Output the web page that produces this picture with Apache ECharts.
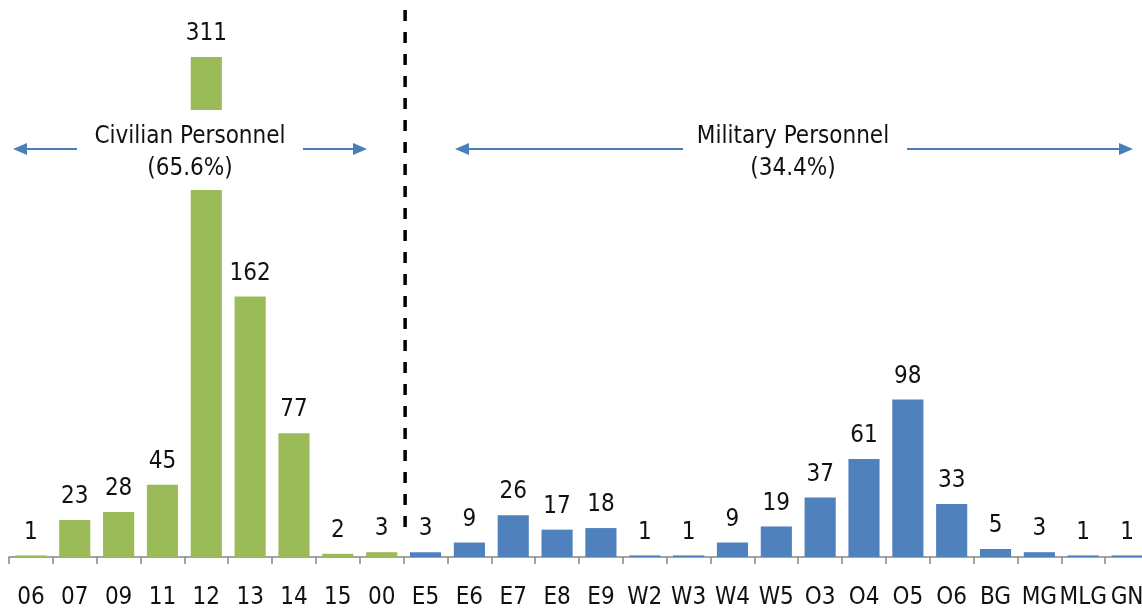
<!DOCTYPE html>
<html><head><meta charset="utf-8">
<script src="https://cdn.jsdelivr.net/npm/echarts@6/dist/echarts.min.js"></script>
<style>html,body{margin:0;padding:0;background:#fff}#c{width:1142px;height:609px}</style>
</head><body><div id="c"></div>
<script>
const civilianGrades = ['06','07','09','11','12','13','14','15','00'];
const civilianValues = [1,23,28,45,311,162,77,2,3];
const militaryGrades = ['E5','E6','E7','E8','E9','W2','W3','W4','W5','O3','O4','O5','O6','BG','MG','MLG','GN'];
const militaryValues = [3,9,26,17,18,1,1,9,19,37,61,98,33,5,3,1,1];
const civilianLabel = ['Civilian Personnel','(65.6%)'];
const militaryLabel = ['Military Personnel','(34.4%)'];

const FONT = '"Liberation Sans Narrow","Arial Narrow","DejaVu Sans Condensed",sans-serif';
const GREEN = '#9BBB59', BLUE = '#4F81BD', ARROW = '#4A7EBB';
const categories = civilianGrades.concat(militaryGrades);
const values = civilianValues.concat(militaryValues);

const chart = echarts.init(document.getElementById('c'));
chart.setOption({
  animation: false,
  grid: {left: 9, width: 1140, top: 57, bottom: 52, containLabel: false, outerBoundsMode: 'none'},
  xAxis: {
    type: 'category', data: categories,
    axisLine: {lineStyle: {color: '#868686', width: 1.5}},
    axisTick: {show: true, interval: 0, length: 7, lineStyle: {color: '#868686', width: 1.5}},
    axisLabel: {fontFamily: FONT, fontSize: 24, color: '#111', margin: 29, interval: 0}
  },
  yAxis: {type: 'value', min: 0, max: 311, show: false, splitLine: {show: false}},
  series: [{
    type: 'bar', barCategoryGap: '29%',
    data: values.map((v, i) => ({value: v, itemStyle: {color: i < civilianValues.length ? GREEN : BLUE}})),
    label: {show: true, position: 'top', distance: 11, fontFamily: FONT, fontSize: 24, color: '#111'}
  }]
});

function px(cat){ return chart.convertToPixel({xAxisIndex: 0}, cat); }
const divX = (px(civilianGrades[civilianGrades.length-1]) + px(militaryGrades[0])) / 2 + 1.5;

function arrow(x1, x2, y){
  const dir = x2 > x1 ? 1 : -1;
  const hl = 14, hw = 6;
  return [
    {type: 'line', shape: {x1: x1, y1: y, x2: x2 - dir*hl, y2: y}, style: {stroke: ARROW, lineWidth: 2.2}, z: 10},
    {type: 'polygon', shape: {points: [[x2, y], [x2 - dir*hl, y - hw], [x2 - dir*hl, y + hw]]}, style: {fill: ARROW}, z: 10}
  ];
}

const civCx = 190, milCx = 793, arrowY = 149;
const graphics = [
  {type: 'line', shape: {x1: divX, y1: 10, x2: divX, y2: 536}, style: {stroke: '#000', lineWidth: 3.5, lineDash: [11, 11]}, z: 10},
  {type: 'rect', shape: {x: civCx - 100, y: 110, width: 200, height: 80}, style: {fill: '#fff'}, z: 9},
  {type: 'text', x: civCx, y: 153, style: {text: civilianLabel.join('\n'), fontFamily: FONT, fontSize: 24, lineHeight: 32, fill: '#111', align: 'center', verticalAlign: 'middle'}, z: 11},
  {type: 'text', x: milCx, y: 153, style: {text: militaryLabel.join('\n'), fontFamily: FONT, fontSize: 24, lineHeight: 32, fill: '#111', align: 'center', verticalAlign: 'middle'}, z: 11}
].concat(arrow(77, 13, arrowY), arrow(303, 367, arrowY), arrow(683, 455, arrowY), arrow(907, 1133, arrowY));
chart.setOption({graphic: graphics});
</script></body></html>
